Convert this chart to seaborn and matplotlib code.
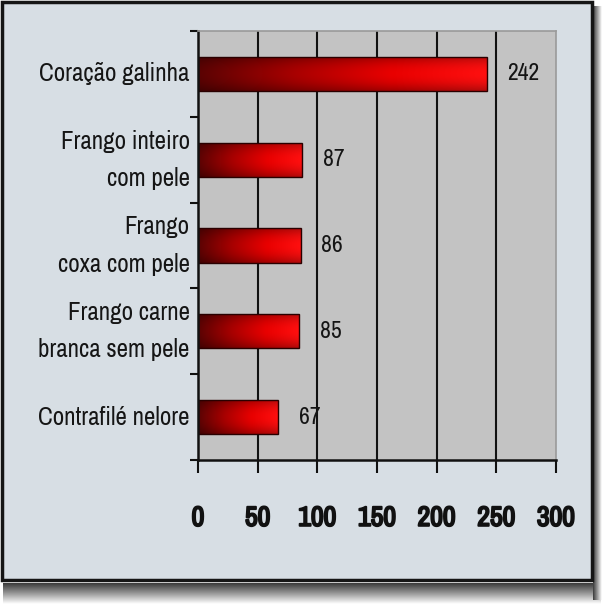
import numpy as np
import pandas as pd
import matplotlib
matplotlib.use("Agg")
import matplotlib.pyplot as plt
import matplotlib.patheffects as pe
from matplotlib import font_manager
from matplotlib.colors import LinearSegmentedColormap
from matplotlib.patches import Rectangle
import seaborn as sns

# ---- data ----
categories = ["Coração galinha", "Frango inteiro\ncom pele", "Frango\ncoxa com pele",
              "Frango carne\nbranca sem pele", "Contrafilé nelore"]
values = [242, 87, 86, 85, 67]
xticks = [0, 50, 100, 150, 200, 250, 300]

df = pd.DataFrame({"cat": categories, "val": values})

sns.set_theme(style="white")
fl = font_manager.fontManager.ttflist
narrow = sorted({f.name for f in fl if ("Narrow" in f.name or "Condensed" in f.name
                 or str(f.stretch) in ("condensed", "semi-condensed", "extra-condensed"))})
FAM = narrow[0] if narrow else "DejaVu Sans"
if narrow:
    lab_size, tick_size, val_size, ls, stroke = 18, 20, 17, 1.75, 1.4
else:
    lab_size, tick_size, val_size, ls, stroke = 13, 17, 15, 2.1, 0.6
plt.rcParams["font.family"] = [FAM, "DejaVu Sans"]

fig = plt.figure(figsize=(6.08, 6.08), dpi=100, facecolor="white")

# ---- background frame with shadow ----
bg = fig.add_axes([0, 0, 1, 1], zorder=-10)
shade = LinearSegmentedColormap.from_list("shade", ["#3a3a3a", "#9a9a9a", "#ffffff"])
bg.imshow(np.linspace(0, 1, 60)[:, None], extent=(3, 601, 604, 583), cmap=shade,
          aspect="auto", vmin=0, vmax=1)
bg.imshow(np.linspace(0, 1, 60)[None, :], extent=(593, 602, 600, 6), cmap=shade,
          aspect="auto", vmin=0, vmax=1)
bg.add_patch(Rectangle((1.5, 1.5), 590, 578, facecolor="#d7dee4", edgecolor="#151515", lw=2.5))
bg.set_xlim(0, 608)
bg.set_ylim(608, 0)
bg.axis("off")

# ---- main axes ----
ax = fig.add_axes([198 / 608, 1 - 460 / 608, 358 / 608, 429 / 608])
ax.set_facecolor("#c3c3c3")
sns.barplot(data=df, x="val", y="cat", orient="h", width=0.4, ax=ax,
            color="#ff0000", edgecolor="#2a0000", linewidth=1.0)

cmap = LinearSegmentedColormap.from_list("bar", ["#5a0303", "#a80000", "#e80000", "#ff1010"])
horiz = cmap(np.linspace(0, 1, 256))[:, :3]
vert = 1 - 0.30 * np.abs(np.linspace(-1, 1, 40)) ** 2
for p in list(ax.patches):
    x0, y0, w, h = p.get_x(), p.get_y(), p.get_width(), p.get_height()
    img = horiz[None, :, :] * vert[:, None, None]
    im = ax.imshow(img, extent=(x0, x0 + w, y0 + h, y0), aspect="auto",
                   zorder=p.get_zorder() + 0.1, interpolation="bilinear")
    im.set_clip_path(p)
    p.set_facecolor("none")
    p.set_zorder(p.get_zorder() + 0.2)

ax.set_xlim(0, 300)
ax.set_ylim(len(categories) - 0.5, -0.5)
ax.set_xticks(xticks)
ax.set_xticklabels([str(t) for t in xticks], fontsize=tick_size, color="#111111")
for t in ax.get_xticklabels():
    t.set_path_effects([pe.withStroke(linewidth=stroke, foreground="#111111")])
ax.set_yticks(range(len(categories)))
ax.set_yticklabels(categories, fontsize=lab_size, color="#151515", va="center")
for t in ax.get_yticklabels():
    t.set_linespacing(ls)
ax.set_yticks(np.arange(-0.5, len(categories), 1.0), minor=True)
ax.tick_params(axis="y", which="major", length=0, pad=6)
ax.tick_params(axis="y", which="minor", length=6, width=1.5, color="#111111", left=True)
ax.tick_params(axis="x", which="major", length=9, width=1.5, color="#111111", pad=24,
               bottom=True)
ax.set_xlabel("")
ax.set_ylabel("")

for x in xticks[1:-1]:
    ax.axvline(x, color="#111111", lw=1.5, zorder=0.5)
ax.set_axisbelow(True)

for s in ["left", "bottom"]:
    ax.spines[s].set_color("#111111")
    ax.spines[s].set_linewidth(1.8)
for s in ["top", "right"]:
    ax.spines[s].set_color("#9a9a9a")
    ax.spines[s].set_linewidth(1.2)

for i, v in enumerate(values):
    ax.annotate(str(v), xy=(v, i), xytext=(15, 0), textcoords="offset points",
                ha="left", va="center", fontsize=val_size, color="#151515")

fig.savefig("out.png", dpi=100, facecolor="white")
